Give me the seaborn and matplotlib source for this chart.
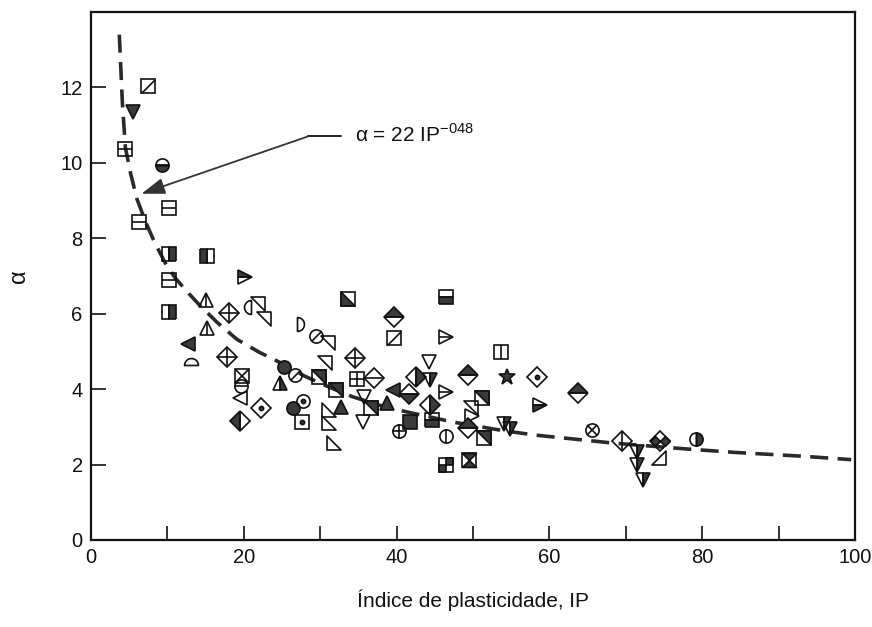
import numpy as np
import matplotlib
matplotlib.use("Agg")
import matplotlib.pyplot as plt
from matplotlib.path import Path
from matplotlib.ticker import MultipleLocator
import seaborn as sns

# ---------------- data ----------------
ip = [7.45, 5.5, 4.44, 9.28, 10.2, 6.27, 10.2, 15.16, 10.2, 10.2,
      20.1, 15.0, 18.0, 20.9, 21.8, 22.6, 26.9, 33.6, 15.16, 12.7,
      13.1, 17.8, 29.4, 31.0, 30.6, 25.2, 26.7, 19.7, 19.6, 19.5,
      24.8, 22.2, 19.5, 26.4, 27.8, 27.6, 31.1, 31.1, 31.8, 32.7,
      29.9, 32.0, 35.7, 35.6, 36.7, 38.8, 34.8, 37.0, 34.6, 39.6,
      39.7, 46.5, 46.5, 44.2, 53.6, 42.5, 44.4, 49.3, 54.5, 58.4,
      46.5, 39.5, 41.6, 44.4, 51.2, 49.7, 49.9, 58.8, 41.8, 44.6,
      40.3, 46.5, 49.3, 51.5, 54.1, 54.9, 46.5, 49.5, 63.7, 65.6,
      69.5, 71.4, 71.5, 72.3, 74.5, 74.4, 79.2]
alpha = [12.03, 11.36, 10.38, 9.95, 8.79, 8.42, 7.57, 7.54, 6.88, 6.05,
         6.98, 6.37, 6.03, 6.19, 6.26, 5.87, 5.73, 6.40, 5.63, 5.20,
         4.65, 4.86, 5.42, 5.23, 4.70, 4.59, 4.38, 4.35, 4.09, 3.77,
         4.17, 3.50, 3.16, 3.50, 3.69, 3.13, 3.45, 3.11, 2.58, 3.53,
         4.33, 3.98, 3.80, 3.13, 3.50, 3.64, 4.27, 4.30, 4.83, 5.92,
         5.36, 6.45, 5.39, 4.73, 4.99, 4.33, 4.25, 4.38, 4.33, 4.33,
         3.93, 3.98, 3.88, 3.58, 3.77, 3.50, 3.30, 3.58, 3.13, 3.19,
         2.89, 2.76, 2.97, 2.71, 3.08, 2.95, 1.99, 2.12, 3.90, 2.92,
         2.63, 2.34, 1.99, 1.59, 2.63, 2.18, 2.68]
symbol = ["s_diag", "v_full", "s_h", "o_half_b", "s_h", "s_h", "s_half_r", "s_half_l", "s_h", "s_half_r",
          "gt_half_t", "tri_vline", "D_cross", "semi_l", "rt_ur", "rt_ur", "semi_r", "s_diagfill", "tri_vline", "lt_full",
          "semi_t", "D_cross", "o_diag", "rt_ur", "rt_ur", "o_full", "o_diag", "s_x", "o_h", "lt_open",
          "tri_half_r", "D_dot", "D_half_l", "o_full", "o_dot", "s_dot", "rt_ll", "rt_ll", "rt_ll", "tri_full",
          "s_diagfill2", "s_diagfill2", "v_open", "v_open", "s_diagfill2", "tri_full", "s_cross", "D_h", "D_cross", "D_half_t",
          "s_diag", "s_half_b", "gt_h", "v_open", "s_v", "D_half_r", "v_half_r", "D_half_t", "star", "D_dot",
          "gt_h", "lt_full", "D_half_b", "D_half_r", "s_diagfill2", "rt_ur", "gt_open", "gt_half_b", "s_full", "s_half_b",
          "o_cross", "o_v", "D_half_t", "s_diagfill2", "v_half_r", "v_half_r", "s_check", "s_hourglass", "D_half_t", "o_x",
          "D_vline", "v_half_r", "v_half_r", "v_half_r", "D_double", "rt_lr", "o_half_r"]

# dashed fitted curve
curve_ip = [3.7, 3.9, 4.1, 4.5, 5.2, 6.0, 7.1, 8.3, 9.7, 11.0, 12.5, 14.1, 16.5,
            19.1, 22.0, 24.8, 27.9, 31.2, 34.2, 38.1, 40.8, 47.3, 53.9, 58.2,
            68.3, 77.5, 84.4, 93.2, 99.5]
curve_alpha = [13.4, 12.5, 11.6, 10.4, 9.7, 9.05, 8.45, 7.9, 7.35, 6.95, 6.6, 6.25, 5.77,
               5.32, 4.98, 4.7, 4.35, 4.05, 3.8, 3.55, 3.42, 3.13, 2.9, 2.78,
               2.57, 2.42, 2.32, 2.22, 2.13]

x_ticks = [0, 20, 40, 60, 80, 100]
y_ticks = [0, 2, 4, 6, 8, 10, 12]
equation = "α = 22 IP$^{\\mathregular{-048}}$"
arrow_tip = (6.6, 9.18)
arrow_knee = (28.4, 10.7)
arrow_end = (32.7, 10.7)
x_label = "Índice de plasticidade, IP"
y_label = "α"

# ---------------- style ----------------
sns.set_theme(style="ticks", rc={
    "xtick.direction": "in", "ytick.direction": "in",
    "axes.edgecolor": "black", "axes.linewidth": 1.5,
})
plt.rcParams["font.family"] = ["Liberation Sans", "DejaVu Sans"]

DARK = "#3a3a3a"
EDGE = "#111111"
MS = 10.0
MEW = 1.2


def poly(verts):
    return Path(list(verts) + [verts[0]], closed=True)


def semicircle(a0, a1):
    t = np.radians(np.linspace(a0, a1, 25))
    v = np.column_stack([np.cos(t), np.sin(t)])
    return Path(np.vstack([v, v[:1]]), closed=True)


DIAG = Path([(-1, -1), (1, 1)], [Path.MOVETO, Path.LINETO])
TRI_LL = poly([(-1, 1), (-1, -1), (1, -1)])
TRI_UR = poly([(-1, 1), (1, 1), (1, -1)])
TRI_LR = poly([(1, 1), (1, -1), (-1, -1)])
CHECK = Path([(0, 0), (1, 0), (1, 1), (0, 1), (0, 0),
              (-1, -1), (0, -1), (0, 0), (-1, 0), (-1, -1)],
             [1, 2, 2, 2, 79, 1, 2, 2, 2, 79])
HOURGLASS = Path([(-1, 1), (1, 1), (0, 0), (-1, 1),
                  (-1, -1), (1, -1), (0, 0), (-1, -1)],
                 [1, 2, 2, 79, 1, 2, 2, 79])
DDOUBLE = Path([(-1, 0), (-0.5, 0.5), (0, 0), (-0.5, -0.5), (-1, 0),
                (0, 0), (0.5, 0.5), (1, 0), (0.5, -0.5), (0, 0)],
               [1, 2, 2, 2, 79, 1, 2, 2, 2, 79])


def L(marker, face="none", fs="full", scale=1.0):
    return dict(marker=marker, face=face, fs=fs, scale=scale)


R2 = 1.414
STYLES = {
    "s_h": [L("s"), L("_")],
    "s_v": [L("s"), L("|")],
    "s_cross": [L("s"), L("+")],
    "s_x": [L("s"), L("x")],
    "s_dot": [L("s"), L("o", DARK, scale=0.3)],
    "s_diag": [L("s"), L(DIAG)],
    "s_half_r": [L("s", DARK, "right")],
    "s_half_l": [L("s", DARK, "left")],
    "s_half_b": [L("s", DARK, "bottom")],
    "s_full": [L("s", DARK)],
    "s_diagfill": [L("s"), L(TRI_LL, DARK)],
    "s_diagfill2": [L("s"), L(TRI_UR, DARK)],
    "s_check": [L("s"), L(CHECK, DARK)],
    "s_hourglass": [L("s"), L(HOURGLASS, DARK)],
    "o_full": [L("o", DARK, scale=0.95)],
    "o_half_b": [L("o", DARK, "bottom", 0.95), L("_", scale=0.95)],
    "o_half_r": [L("o", DARK, "right", 0.95)],
    "o_diag": [L("o", scale=0.95), L(DIAG, scale=0.67)],
    "o_h": [L("o", scale=0.95), L("_", scale=0.95)],
    "o_v": [L("o", scale=0.95), L("|", scale=0.95)],
    "o_cross": [L("o", scale=0.95), L("+", scale=0.95)],
    "o_x": [L("o", scale=0.95), L("x", scale=0.67)],
    "o_dot": [L("o", scale=0.95), L("o", DARK, scale=0.3)],
    "D_cross": [L("D"), L("+", scale=R2)],
    "D_dot": [L("D"), L("o", DARK, scale=0.3)],
    "D_h": [L("D"), L("_", scale=R2)],
    "D_vline": [L("D"), L("|", scale=R2)],
    "D_half_t": [L("D", DARK, "top")],
    "D_half_b": [L("D", DARK, "bottom")],
    "D_half_l": [L("D", DARK, "left")],
    "D_half_r": [L("D", DARK, "right")],
    "D_double": [L("D"), L(DDOUBLE, DARK, scale=R2)],
    "tri_vline": [L("^"), L("|")],
    "tri_full": [L("^", DARK)],
    "tri_half_r": [L("^", DARK, "right")],
    "v_open": [L("v")],
    "v_full": [L("v", DARK)],
    "v_half_r": [L("v", DARK, "right")],
    "lt_open": [L("<")],
    "lt_full": [L("<", DARK)],
    "gt_h": [L(">"), L("_")],
    "gt_open": [L(">")],
    "gt_half_t": [L(">", DARK, "top")],
    "gt_half_b": [L(">", DARK, "bottom")],
    "rt_ur": [L(TRI_UR)],
    "rt_ll": [L(TRI_LL)],
    "rt_lr": [L(TRI_LR)],
    "semi_l": [L(semicircle(90, 270))],
    "semi_r": [L(semicircle(-90, 90))],
    "semi_t": [L(semicircle(0, 180))],
    "star": [L("*", DARK, scale=1.2)],
}

# ---------------- figure ----------------
fig = plt.figure(figsize=(8.72, 6.27), dpi=100)
ax = fig.add_axes([0.1044, 0.1388, 0.8761, 0.8421])

sns.lineplot(x=curve_ip, y=curve_alpha, ax=ax, color="#2a2a2a", linewidth=2.6,
             linestyle=(0, (5.0, 2.6)), zorder=2)

for xv, yv, key in zip(ip, alpha, symbol):
    for k, layer in enumerate(STYLES[key]):
        ax.plot([xv], [yv], linestyle="none", marker=layer["marker"],
                markersize=MS * layer["scale"], fillstyle=layer["fs"],
                markerfacecolor=layer["face"], markerfacecoloralt="none",
                markeredgecolor=EDGE, markeredgewidth=MEW, zorder=3 + k)

# equation annotation with bent arrow
ax.plot([arrow_knee[0], arrow_end[0]], [arrow_knee[1], arrow_end[1]],
        color="#111111", linewidth=1.3, zorder=5)
ax.annotate("", xy=arrow_tip, xytext=arrow_knee,
            arrowprops=dict(arrowstyle="-|>,head_length=1.1,head_width=0.38",
                            color="#333333", linewidth=1.3, mutation_scale=13,
                            shrinkA=0, shrinkB=0), zorder=5)
ax.text(34.6, 10.75, equation, fontsize=15, va="center", ha="left", color="#111111")

ax.set_xlim(0, 100)
ax.set_ylim(0, 14)
ax.set_xticks(x_ticks)
ax.xaxis.set_minor_locator(MultipleLocator(10))
ax.set_yticks(y_ticks)
ax.tick_params(axis="x", which="both", length=10, width=1.2, pad=6,
               labelsize=14.5, colors="#111111", top=False)
ax.tick_params(axis="y", which="major", length=11, width=1.2, pad=6,
               labelsize=14.5, colors="#111111", right=False)
for sp in ax.spines.values():
    sp.set_visible(True)
    sp.set_linewidth(1.6)
    sp.set_color("#111111")

ax.set_xlabel(x_label, fontsize=15, labelpad=16, color="#111111")
ax.set_ylabel(y_label, fontsize=17, labelpad=22, color="#111111")
ax.grid(False)

fig.savefig("out.png", dpi=100, facecolor="white")
